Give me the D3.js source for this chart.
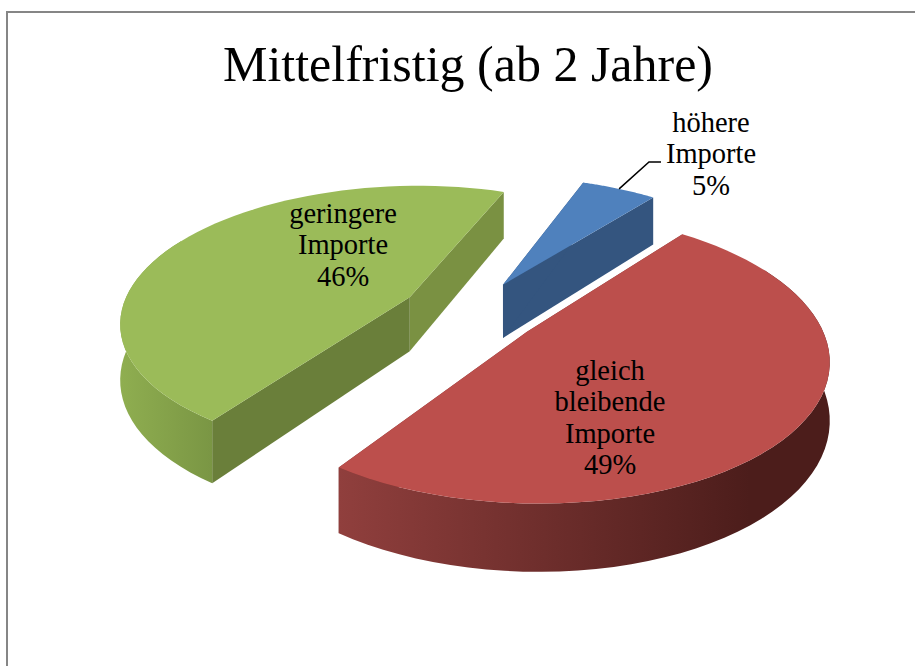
<!DOCTYPE html>
<html>
<head>
<meta charset="utf-8">
<script src="https://cdnjs.cloudflare.com/ajax/libs/d3/7.8.5/d3.min.js"></script>
<style>
    html, body { margin: 0; padding: 0; background: #fff; overflow: hidden; }
    text { font-family: "Liberation Serif", serif; fill: #000; }
</style>
</head>
<body>
<svg id="chart" width="915" height="666"></svg>
<script>
// Data
const title = "Mittelfristig (ab 2 Jahre)";
const categories = [["höhere", "Importe"], ["gleich", "bleibende", "Importe"], ["geringere", "Importe"]];
const values = [5, 49, 46];

// Colours per slice: top face, cut face at start angle, cut face at end angle, outer wall left/right
const topColors = ["#4f81bd", "#bc4f4c", "#9bbb59"];
const startWallColors = ["#34557f", "#7d3533", "#6a7f3a"];
const endWallColors = ["#34557f", "#7d3533", "#7a9142"];
const rimColors = [["#3b6090", "#33547e"], ["#903f3d", "#4c1d1b"], ["#8fae50", "#7a9644"]];

const svg = d3.select("#chart");
const defs = svg.append("defs");

// Chart frame, only left and top side are visible in the crop
svg.append("path")
    .attr("d", "M7,666V12H915")
    .attr("fill", "none")
    .attr("stroke", "#868686")
    .attr("stroke-width", 2);

svg.append("text")
    .attr("x", 468)
    .attr("y", 81)
    .attr("text-anchor", "middle")
    .attr("font-size", 50)
    .attr("textLength", 490)
    .attr("lengthAdjust", "spacingAndGlyphs")
    .text(title);

// Perspective view of the pie plane
const cx = 470, cy = 312;
const rx = 289, ry = 135;
const persp = 0.17;
const depth = 55;
const explode = 0.24;

const scaleU = d3.scaleLinear().domain([-1, 1]).range([cx - rx, cx + rx]);
const scaleV = d3.scaleLinear().domain([-1, 1]).range([cy - ry, cy + ry]);

function project(u, v, down) {
    const w = 1 - persp * v;
    return [
        scaleU(u / w),
        scaleV(v / w) + (down ? depth / w : 0)
    ];
}

const pie = d3.pie()
    .sort(null)
    .startAngle(20.5 * Math.PI / 180)
    .endAngle(380.5 * Math.PI / 180);

const line = d3.line();
const slices = pie(values);

function angleAt(d, i) {
    return d.startAngle + (d.endAngle - d.startAngle) * i / 60;
}

function rimPoint(d, a, down) {
    const mid = (d.startAngle + d.endAngle) / 2;
    const ox = explode * Math.sin(mid), oy = -explode * Math.cos(mid);
    return project(ox + Math.sin(a), oy - Math.cos(a), down);
}

function rimPoints(d, down) {
    return d3.range(0, 61).map(i => rimPoint(d, angleAt(d, i), down));
}

// Only the part of the rim that faces the viewer gets an outer wall,
// a bit more is kept so the wall runs out smoothly behind the top face
function frontAngles(d) {
    return d3.range(0, 61).map(i => angleAt(d, i)).filter(a => -Math.cos(a) > -0.5);
}

function apex(d, down) {
    const mid = (d.startAngle + d.endAngle) / 2;
    return project(explode * Math.sin(mid), -explode * Math.cos(mid), down);
}

// Green first, red last so nearer slices are painted on top
[2, 0, 1].forEach(i => {
    const d = slices[i];
    const top = rimPoints(d, false);
    const bottom = rimPoints(d, true);
    const a0 = apex(d, false), a1 = apex(d, true);
    const g = svg.append("g");

    g.append("path")
        .attr("d", line([a0, top[60], bottom[60], a1]) + "Z")
        .attr("fill", endWallColors[i]);

    g.append("path")
        .attr("d", line([a0, top[0], bottom[0], a1]) + "Z")
        .attr("fill", startWallColors[i]);

    const front = frontAngles(d);
    if (front.length) {
        const gradId = "rim" + i;
        const upper = front.map(a => rimPoint(d, a, false));
        const lower = front.map(a => rimPoint(d, a, true));
        const grad = defs.append("linearGradient")
            .attr("id", gradId)
            .attr("gradientUnits", "userSpaceOnUse")
            .attr("x1", d3.min(upper, p => p[0]))
            .attr("x2", d3.max(upper, p => p[0]) - (i === 1 ? 80 : 0))
            .attr("y1", 0)
            .attr("y2", 0);
        grad.append("stop").attr("offset", 0).attr("stop-color", rimColors[i][0]);
        grad.append("stop").attr("offset", 1).attr("stop-color", rimColors[i][1]);

        g.append("path")
            .attr("d", line(upper.concat(lower.reverse())) + "Z")
            .attr("fill", `url(#${gradId})`);
    }

    g.append("path")
        .attr("d", line([a0].concat(top)) + "Z")
        .attr("fill", topColors[i]);
});

// Leader line of the small slice
const blue = slices[0];
const blueRim = rimPoints(blue, false);
svg.append("path")
    .attr("d", line([blueRim[30], [649, 162], [661, 162]]))
    .attr("fill", "none")
    .attr("stroke", "#000")
    .attr("stroke-width", 1.5);

// Data labels
const labelX = [711, 610, 343];
const labelY = [132, 380, 223];
const lineStep = 31.4;

categories.forEach((lines, i) => {
    const t = svg.append("text")
        .attr("text-anchor", "middle")
        .attr("font-size", 28.5);
    lines.concat([values[i] + "%"]).forEach((s, j) => {
        t.append("tspan")
            .attr("x", labelX[i])
            .attr("y", labelY[i] + j * lineStep)
            .text(s);
    });
});
</script>
</body>
</html>
